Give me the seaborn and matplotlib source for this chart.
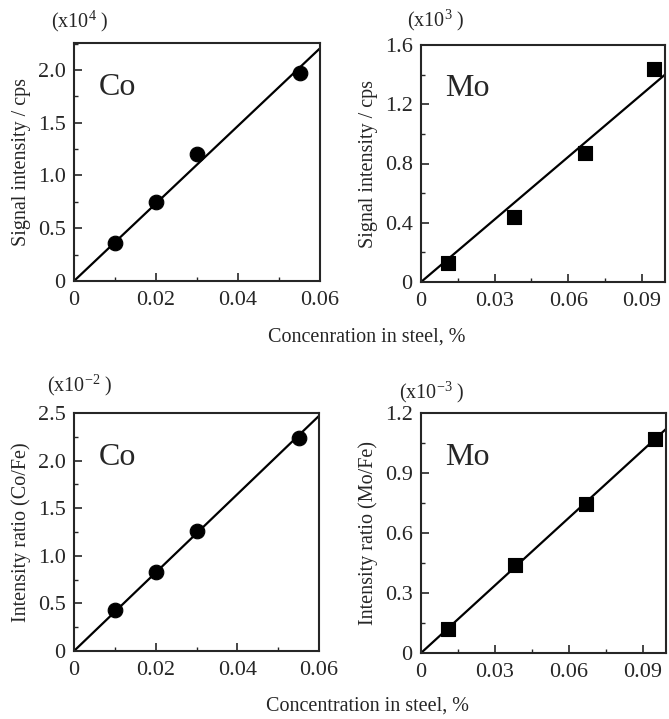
import matplotlib
matplotlib.use("Agg")
import matplotlib.pyplot as plt
import seaborn as sns
import pandas as pd
from matplotlib.ticker import MultipleLocator

# data
co_conc = [0.010, 0.020, 0.030, 0.055]
mo_conc = [0.011, 0.038, 0.067, 0.095]
co_signal = [0.36, 0.75, 1.20, 1.97]      # x10^4 cps
mo_signal = [0.13, 0.44, 0.87, 1.44]      # x10^3 cps
co_ratio = [0.43, 0.83, 1.26, 2.24]       # x10^-2
mo_ratio = [0.12, 0.44, 0.745, 1.07]      # x10^-3

# calibration lines (end points)
co_fit_x = [0.0, 0.06]
mo_fit_x = [0.0, 0.0995]
co_signal_fit = [0.0, 2.205]
mo_signal_fit = [0.0, 1.40]
co_ratio_fit = [0.0, 2.47]
mo_ratio_fit = [0.0, 1.12]

sns.set_style("ticks")
plt.rcParams["font.family"] = ["Liberation Serif", "DejaVu Serif"]
plt.rcParams["mathtext.fontset"] = "custom"
plt.rcParams["mathtext.rm"] = "Liberation Serif"
plt.rcParams["mathtext.default"] = "regular"

fig = plt.figure(figsize=(6.69, 7.19), dpi=100)

W, H = 669, 719
def box(l, t, r, b):
    return [l / W, (H - b) / H, (r - l) / W, (b - t) / H]

panels = [
    dict(pos=box(74, 43, 320, 281), x=co_conc, y=co_signal, fx=co_fit_x, fy=co_signal_fit,
         marker="o", s=110, name="Co", ylabel="Signal intensity / cps", mult=r"(x10$^{4}$ )",
         mpos=(0.024, 1.09), xlim=0.06, xmaj=0.02, ylim=2.255, ymaj=0.5),
    dict(pos=box(421, 45, 665, 282), x=mo_conc, y=mo_signal, fx=mo_fit_x, fy=mo_signal_fit,
         marker="s", s=100, name="Mo", ylabel="Signal intensity / cps", mult=r"(x10$^{3}$ )",
         mpos=(0.061, 1.105), xlim=0.0995, xmaj=0.03, ylim=1.6, ymaj=0.4),
    dict(pos=box(74, 413, 319, 651), x=co_conc, y=co_ratio, fx=co_fit_x, fy=co_ratio_fit,
         marker="o", s=110, name="Co", ylabel="Intensity ratio (Co/Fe)", mult=r"(x10$^{-2}$ )",
         mpos=(0.024, 1.118), xlim=0.06, xmaj=0.02, ylim=2.5, ymaj=0.5),
    dict(pos=box(421, 413, 666, 653), x=mo_conc, y=mo_ratio, fx=mo_fit_x, fy=mo_ratio_fit,
         marker="s", s=100, name="Mo", ylabel="Intensity ratio (Mo/Fe)", mult=r"(x10$^{-3}$ )",
         mpos=(0.045, 1.085), xlim=0.0995, xmaj=0.03, ylim=1.2, ymaj=0.3),
]

for p in panels:
    ax = fig.add_axes(p["pos"])
    df = pd.DataFrame({"conc": p["x"], "val": p["y"]})
    fit = pd.DataFrame({"conc": p["fx"], "val": p["fy"]})
    sns.lineplot(data=fit, x="conc", y="val", color="black", linewidth=1.6, ax=ax)
    sns.scatterplot(data=df, x="conc", y="val", marker=p["marker"], s=p["s"],
                    color="black", edgecolor="black", ax=ax, zorder=3, clip_on=False)
    ax.set_xlim(0, p["xlim"])
    ax.set_ylim(0, p["ylim"])

    xt = [i * p["xmaj"] for i in range(int(p["xlim"] / p["xmaj"] + 1e-6) + 1)]
    yt = [i * p["ymaj"] for i in range(int(p["ylim"] / p["ymaj"] + 1e-6) + 1)]
    ax.set_xticks(xt)
    ax.set_xticklabels(["0"] + ["{:.2f}".format(v) for v in xt[1:]])
    ax.set_yticks(yt)
    ax.set_yticklabels(["0"] + ["{:.1f}".format(v) for v in yt[1:]])
    ax.xaxis.set_minor_locator(MultipleLocator(p["xmaj"] / 2))
    ax.yaxis.set_minor_locator(MultipleLocator(p["ymaj"] / 2))
    ax.tick_params(which="major", direction="in", length=6, width=1.2, labelsize=16)
    ax.tick_params(axis="x", which="major", pad=7)
    ax.tick_params(axis="y", which="major", pad=6)
    ax.tick_params(which="minor", direction="in", length=3, width=1.0)
    for sp in ax.spines.values():
        sp.set_linewidth(1.5)

    ax.set_xlabel("")
    ax.set_ylabel(p["ylabel"], fontsize=14.5, labelpad=5)
    ax.text(0.1, 0.815, p["name"], transform=ax.transAxes, fontsize=23,
            ha="left", va="center")
    ax.text(p["mpos"][0], p["mpos"][1], p["mult"], transform=ax.transAxes, fontsize=14.5,
            ha="center", va="center")

fig.text(367 / W, 1 - 337 / H, "Concenration in steel, %", fontsize=14.5,
         ha="center", va="center")
fig.text(367 / W, 1 - 706 / H, "Concentration in steel, %", fontsize=14.5,
         ha="center", va="center")

fig.savefig("out.png", dpi=100)
